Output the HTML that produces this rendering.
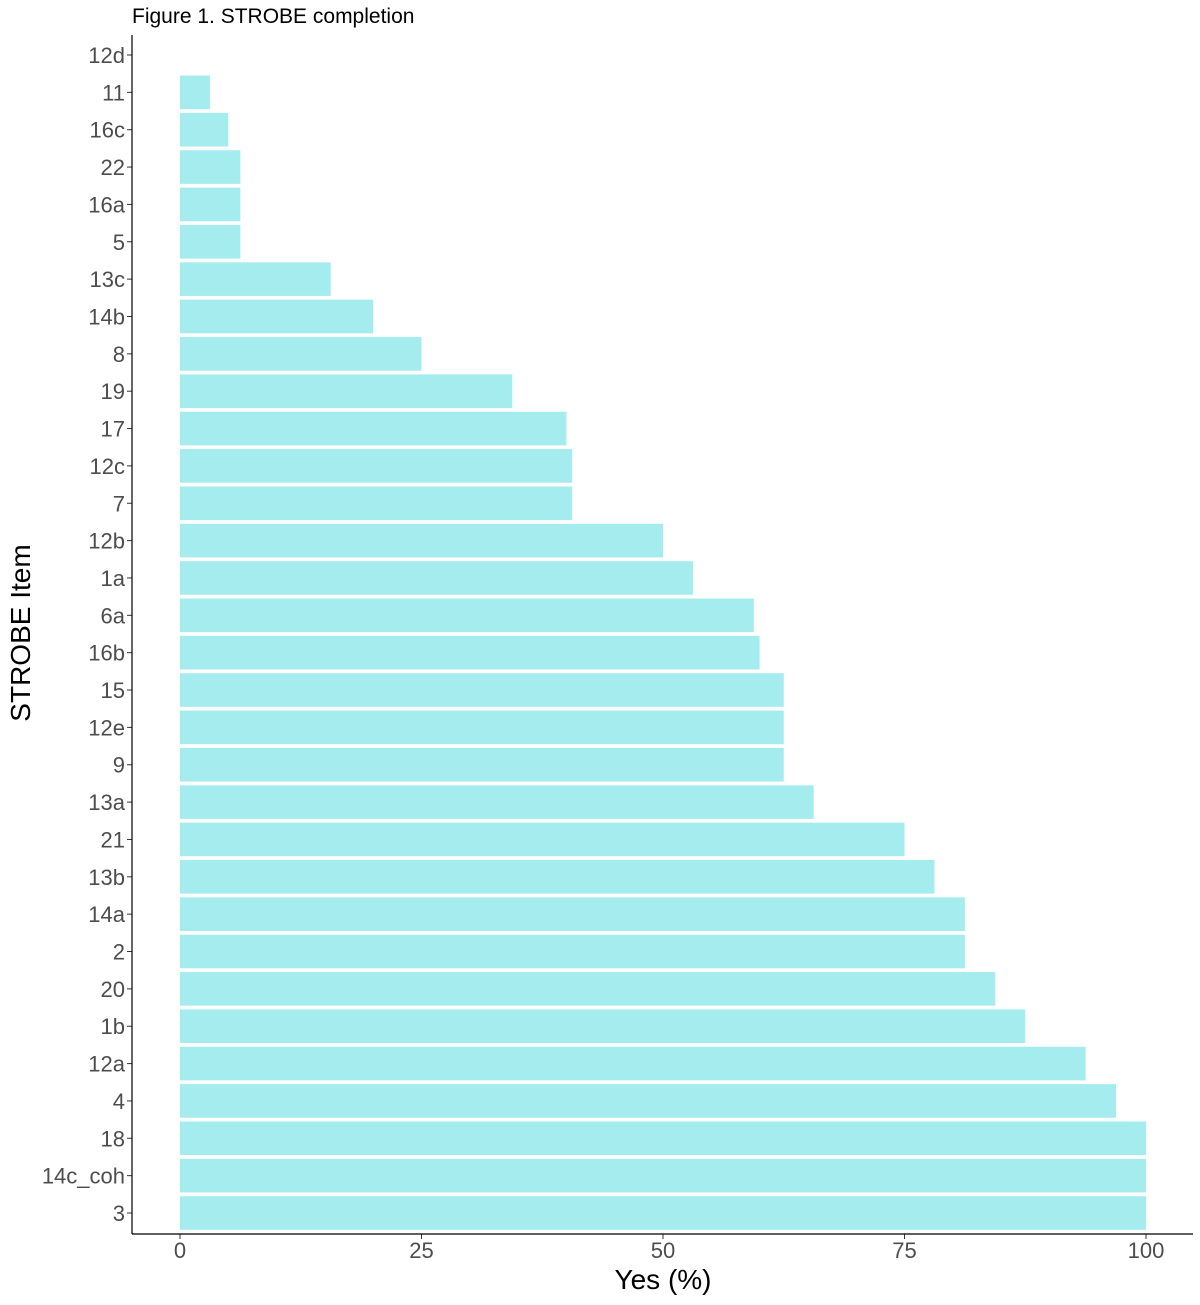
<!DOCTYPE html>
<html><head><meta charset="utf-8"><style>
body{margin:0;background:#fff;}
svg text{font-family:"Liberation Sans",Arial,sans-serif;}
</style></head><body>
<svg id="chart" width="1200" height="1300" xmlns="http://www.w3.org/2000/svg">
<text x="132" y="23" font-size="21" fill="#000">Figure 1. STROBE completion</text>
<g id="bars"></g>
<g id="yticks"></g>
<g id="xticks"></g>
<line x1="132" y1="35" x2="132" y2="1234" stroke="#000" stroke-width="1.2"/>
<line x1="132" y1="1234" x2="1193" y2="1234" stroke="#000" stroke-width="1.2"/>
<text x="663" y="1289" font-size="28" text-anchor="middle" fill="#000">Yes (%)</text>
<text transform="translate(30,633) rotate(-90)" font-size="28" text-anchor="middle" fill="#000">STROBE Item</text>
</svg>
<script>
const categories=["12d","11","16c","22","16a","5","13c","14b","8","19","17","12c","7","12b","1a","6a","16b","15","12e","9","13a","21","13b","14a","2","20","1b","12a","4","18","14c_coh","3"];
const values=[0,3.1,5,6.25,6.25,6.25,15.6,20,25,34.4,40,40.6,40.6,50,53.1,59.4,60,62.5,62.5,62.5,65.6,75,78.1,81.25,81.25,84.4,87.5,93.75,96.9,100,100,100];
const xTicks=[0,25,50,75,100];
const NS="http://www.w3.org/2000/svg";
const x0=180,x1=1146,yTop=55,yBot=1213;
const xs=v=>x0+(x1-x0)*v/100;
const step=(yBot-yTop)/(categories.length-1);
const ys=i=>yTop+i*step;
const bw=step*0.9;
const bars=document.getElementById('bars'),yt=document.getElementById('yticks'),xt=document.getElementById('xticks');
categories.forEach((c,i)=>{
  const r=document.createElementNS(NS,'rect');
  r.setAttribute('x',xs(0));r.setAttribute('y',ys(i)-bw/2);
  r.setAttribute('width',Math.max(0,xs(values[i])-xs(0)));r.setAttribute('height',bw);
  r.setAttribute('fill','#a5ecef');
  
  
  bars.appendChild(r);
  const l=document.createElementNS(NS,'line');
  l.setAttribute('x1',127);l.setAttribute('x2',132);l.setAttribute('y1',ys(i));l.setAttribute('y2',ys(i));
  l.setAttribute('stroke','#333');
  
  
  yt.appendChild(l);
  const t=document.createElementNS(NS,'text');
  t.setAttribute('x',125);t.setAttribute('y',ys(i)+8);t.setAttribute('text-anchor','end');
  t.setAttribute('font-size','22');t.setAttribute('fill','#4d4d4d');t.textContent=c;
  
  
  yt.appendChild(t);
});
xTicks.forEach(v=>{
  const l=document.createElementNS(NS,'line');
  l.setAttribute('x1',xs(v));l.setAttribute('x2',xs(v));l.setAttribute('y1',1234);l.setAttribute('y2',1239);
  l.setAttribute('stroke','#333');
  
  
  xt.appendChild(l);
  const t=document.createElementNS(NS,'text');
  t.setAttribute('x',xs(v));t.setAttribute('y',1258);t.setAttribute('text-anchor','middle');
  t.setAttribute('font-size','22');t.setAttribute('fill','#4d4d4d');t.textContent=v;
  
  
  xt.appendChild(t);
});
</script>
</body></html>
